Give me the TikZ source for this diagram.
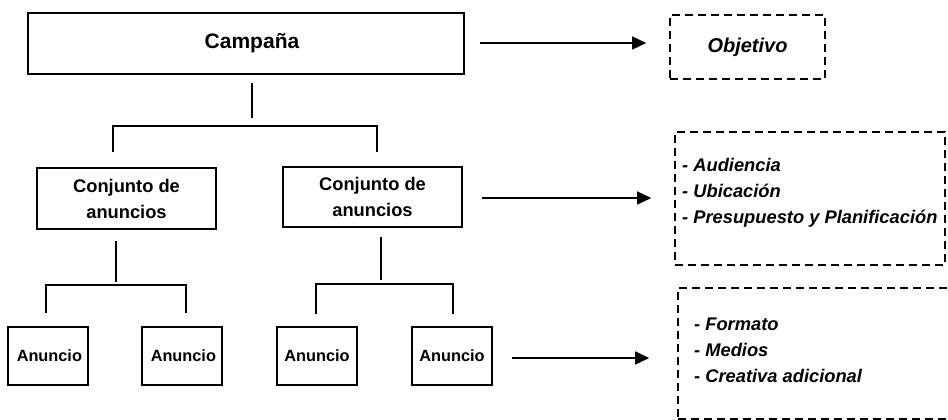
\documentclass[tikz,border=0pt]{standalone}
\usepackage{fontspec}
\setmainfont{Liberation Sans}
\usetikzlibrary{arrows.meta,calc}
\begin{document}
\begin{tikzpicture}[x=1pt,y=1pt,
    caja/.style={draw,line width=1.6pt,inner sep=0pt,align=center,font=\bfseries\fontsize{18.3}{26}\selectfont},
    punteada/.style={draw,line width=1.6pt,dash pattern=on 8pt off 5pt,inner sep=0pt},
    lista/.style={align=left,inner sep=0pt,font=\bfseries\itshape\fontsize{18.3}{26}\selectfont},
    flecha/.style={line width=1.5pt,-{Triangle[length=14pt,width=13pt]}},
    linea/.style={line width=1.5pt}]
                \clip (0,0) rectangle (948,420);
                \node[caja,minimum width=436,minimum height=61,font=\bfseries\fontsize{21}{24}\selectfont] (camp) at (246,376.5) {\hspace{12pt}Campaña};
                \node[caja,minimum width=179,minimum height=61] (conj1) at (126.5,221.5) {Conjunto de\\anuncios};
                \node[caja,minimum width=179,minimum height=60] (conj2) at (372.5,223) {Conjunto de\\anuncios};
                \node[caja,minimum width=80,minimum height=58,font=\bfseries\fontsize{16.3}{20}\selectfont] (an1) at (48,64) {\,Anuncio};
                \node[caja,minimum width=80,minimum height=58,font=\bfseries\fontsize{16.3}{20}\selectfont] (an2) at (182,64) {\,Anuncio};
                \node[caja,minimum width=80,minimum height=58,font=\bfseries\fontsize{16.3}{20}\selectfont] (an3) at (317,64) {Anuncio};
                \node[caja,minimum width=80,minimum height=58,font=\bfseries\fontsize{16.3}{20}\selectfont] (an4) at (452,64) {Anuncio};
                \node[punteada,minimum width=155,minimum height=64,font=\bfseries\itshape\fontsize{20}{24}\selectfont] (obj) at (747.5,373) {Objetivo};
                \node[punteada,minimum width=270,minimum height=133] (segbox) at (810,221.5) {};
                \node[lista,anchor=west] (seglist) at (682,227) {- Audiencia\\- Ubicación\\- Presupuesto y Planificación};
                \node[punteada,minimum width=290,minimum height=131] (medbox) at (823,66.5) {};
                \node[lista,anchor=west] (medlist) at (694,70) {- Formato\\- Medios\\- Creativa adicional};
                \draw[linea] ([xshift=6pt,yshift=-8pt]camp.south) -- ++(0,-35);
                \draw[linea] ([xshift=-13.5pt,yshift=15pt]conj1.north) -- ++(0,26) -| ([xshift=4.5pt,yshift=14pt]conj2.north);
                \draw[linea] ([xshift=-10.5pt,yshift=-11pt]conj1.south) -- ++(0,-41);
                \draw[linea] ([xshift=-2pt,yshift=13pt]an1.north) -- ++(0,28) -| ([xshift=4pt,yshift=13pt]an2.north);
                \draw[linea] ([xshift=8.5pt,yshift=-9pt]conj2.south) -- ++(0,-43);
                \draw[linea] ([xshift=-1pt,yshift=12pt]an3.north) -- ++(0,30) -| ([xshift=1pt,yshift=12pt]an4.north);
                \coordinate (o1) at (480,377);
                \coordinate (o2) at (482,222);
                \coordinate (o3) at (512,62);
                \draw[flecha] (o1) -- ($(obj.west |- o1)+(-23,0)$);
                \draw[flecha] (o2) -- ($(segbox.west |- o2)+(-23,0)$);
                \draw[flecha] (o3) -- ($(medbox.west |- o3)+(-28,0)$);
            \end{tikzpicture}
\end{document}
